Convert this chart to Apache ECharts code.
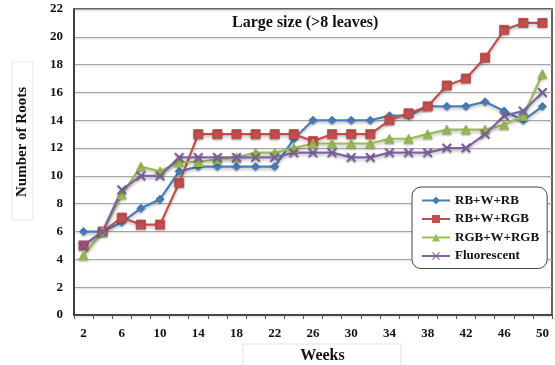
<!DOCTYPE html>
<html>
<head>
<meta charset="utf-8">
<script src="https://cdn.jsdelivr.net/npm/echarts@6/dist/echarts.min.js"></script>
<style>
  html, body { margin: 0; padding: 0; background: #fff; }
  #chart { width: 555px; height: 365px; }
</style>
</head>
<body>
<div id="chart"></div>
<script>
// Root counts per week for each lighting treatment
const weeks = [2, 4, 6, 8, 10, 12, 14, 16, 18, 20, 22, 24, 26, 28, 30, 32, 34, 36, 38, 40, 42, 44, 46, 48, 50];
const rbWRb = [6.0, 6.0, 6.67, 7.67, 8.33, 10.33, 10.67, 10.67, 10.67, 10.67, 10.67, 12.67, 14.0, 14.0, 14.0, 14.0, 14.33, 14.33, 15.0, 15.0, 15.0, 15.33, 14.67, 14.0, 15.0];
const rbWRgb = [5.0, 6.0, 7.0, 6.5, 6.5, 9.5, 13.0, 13.0, 13.0, 13.0, 13.0, 13.0, 12.5, 13.0, 13.0, 13.0, 14.0, 14.5, 15.0, 16.5, 17.0, 18.5, 20.5, 21.0, 21.0];
const rgbWRgb = [4.3, 6.0, 8.67, 10.67, 10.33, 11.0, 11.0, 11.2, 11.33, 11.67, 11.67, 12.0, 12.33, 12.33, 12.33, 12.33, 12.67, 12.67, 13.0, 13.33, 13.33, 13.33, 13.67, 14.33, 17.33];
const fluorescent = [5.0, 6.0, 9.0, 10.0, 10.0, 11.33, 11.33, 11.33, 11.33, 11.33, 11.33, 11.67, 11.67, 11.67, 11.33, 11.33, 11.67, 11.67, 11.67, 12.0, 12.0, 13.0, 14.33, 14.67, 16.0];
const yTicks = { min: 0, max: 22, step: 2 };

const serif = '"Liberation Serif", "Times New Roman", serif';
const crossSymbol = 'path://M0,1 L1,0 L5,4 L9,0 L10,1 L6,5 L10,9 L9,10 L5,6 L1,10 L0,9 L4,5 Z';

function lineSeries(name, data, color, symbol, size) {
  return {
    name: name,
    type: 'line',
    data: data,
    symbol: symbol,
    symbolSize: size,
    lineStyle: { width: 2.2, color: color, shadowColor: 'rgba(0,0,0,0.25)', shadowBlur: 3, shadowOffsetY: 2 },
    itemStyle: { color: color, borderColor: color, shadowColor: 'rgba(0,0,0,0.25)', shadowBlur: 2, shadowOffsetY: 1 },
    emphasis: { disabled: true },
    animation: false
  };
}

const chart = echarts.init(document.getElementById('chart'), null, { renderer: 'canvas' });
chart.setOption({
  backgroundColor: '#fff',
  animation: false,
  title: {
    text: 'Large size (>8 leaves)',
    left: 227, top: 10,
    textStyle: { fontFamily: serif, fontWeight: 'bold', fontSize: 16, color: '#111' }
  },
  grid: {
    left: 74, right: 3, top: 9, bottom: 50,
    show: true, borderColor: '#333', borderWidth: 1.5, backgroundColor: '#fff'
  },
  legend: {
    orient: 'vertical',
    left: 412, top: 187,
    width: 134,
    padding: [7, 8, 6, 9],
    backgroundColor: '#fff',
    borderColor: '#444', borderWidth: 1, borderRadius: 9,
    itemWidth: 28, itemHeight: 10, itemGap: 5.5,
    textStyle: { fontFamily: serif, fontWeight: 'bold', fontSize: 13, color: '#111', padding: [0, 8, 0, 0] },
    data: ['RB+W+RB', 'RB+W+RGB', 'RGB+W+RGB', 'Fluorescent']
  },
  xAxis: {
    type: 'category',
    data: weeks,
    boundaryGap: true,
    axisLine: { lineStyle: { color: '#333', width: 1.5 } },
    axisTick: { show: true, interval: 0, length: 4, lineStyle: { color: '#555' } },
    axisLabel: { interval: 1, margin: 12, fontFamily: serif, fontWeight: 'bold', fontSize: 13, color: '#111' },
    splitLine: { show: false }
  },
  yAxis: {
    type: 'value',
    min: yTicks.min, max: yTicks.max, interval: yTicks.step,
    axisLine: { show: true, lineStyle: { color: '#333', width: 1.5 } },
    axisTick: { show: false },
    axisLabel: { margin: 11, fontFamily: serif, fontWeight: 'bold', fontSize: 13, color: '#111' },
    splitLine: { lineStyle: { color: '#a6a6a6', width: 1.2, shadowColor: 'rgba(0,0,0,0.2)', shadowBlur: 2, shadowOffsetY: 1 } }
  },
  graphic: [
    {
      type: 'rect', silent: true, x: 243, y: 344,
      shape: { width: 158, height: 26 },
      style: { fill: '#fff', stroke: '#e2e2e2', lineWidth: 1 }
    },
    {
      type: 'text', silent: true, x: 322.5, y: 356,
      style: { text: 'Weeks', fontFamily: serif, fontWeight: 'bold', fontSize: 16, fill: '#111', align: 'center', verticalAlign: 'middle' }
    },
    {
      type: 'rect', silent: true, x: 12, y: 62,
      shape: { width: 21, height: 158 },
      style: { fill: '#fff', stroke: '#e6e6e6', lineWidth: 1 }
    },
    {
      type: 'text', silent: true,
      x: 22, y: 142, rotation: Math.PI / 2,
      style: { text: 'Number of Roots', fontFamily: serif, fontWeight: 'bold', fontSize: 15, fill: '#111', align: 'center', verticalAlign: 'middle' }
    }
  ],
  series: [
    lineSeries('RB+W+RB', rbWRb, '#4a7ebb', 'diamond', 8),
    lineSeries('RB+W+RGB', rbWRgb, '#c0504d', 'rect', 9),
    lineSeries('RGB+W+RGB', rgbWRgb, '#9bbb59', 'triangle', 9),
    lineSeries('Fluorescent', fluorescent, '#8064a2', crossSymbol, 9)
  ]
});
</script>
</body>
</html>
